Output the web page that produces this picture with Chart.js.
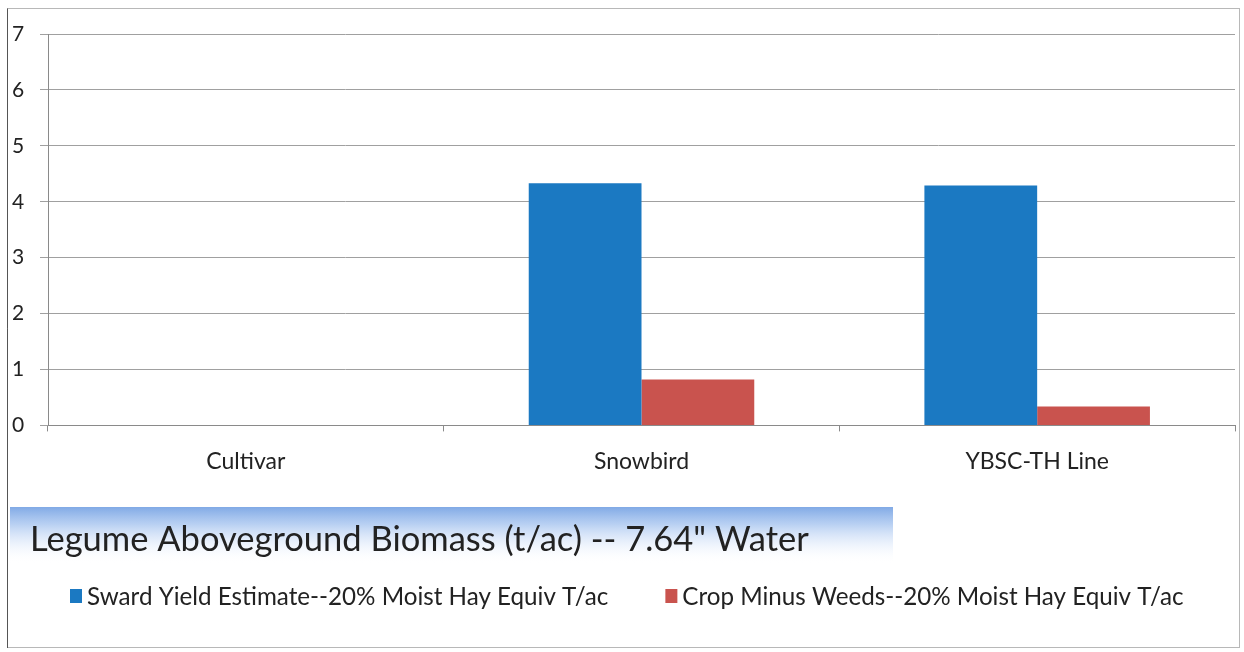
<!DOCTYPE html>
<html>
<head>
<meta charset="utf-8">
<script src="https://cdn.jsdelivr.net/npm/chart.js@4.4.1/dist/chart.umd.min.js"></script>
<style>
  html, body { margin: 0; padding: 0; background: #ffffff; }
  #wrap { width: 1244px; height: 652px; }
</style>
</head>
<body>
<div id="wrap"><canvas id="chart" width="1244" height="652"></canvas></div>
<script>
// Cultivars and biomass estimates (t/ac, 20% moisture hay equivalent)
const categories = ['Cultivar', 'Snowbird', 'YBSC-TH Line'];
const swardYield = [null, 4.33, 4.29];
const cropMinusWeeds = [null, 0.82, 0.34];
const seriesNames = [
  'Sward Yield Estimate--20% Moist Hay Equiv T/ac',
  'Crop Minus Weeds--20% Moist Hay Equiv T/ac'
];
const seriesColors = ['#1b79c2', '#c9534e'];
const yTicks = [0, 1, 2, 3, 4, 5, 6, 7];
const chartTitle = 'Legume Aboveground Biomass (t/ac) -- 7.64" Water';

const FONT = 'Lato, "Noto Sans", sans-serif';

// Outer frame
const framePlugin = {
  id: 'frame',
  beforeDraw(chart) {
    const ctx = chart.ctx;
    ctx.save();
    ctx.fillStyle = '#ffffff';
    ctx.fillRect(0, 0, chart.width, chart.height);
    ctx.strokeStyle = '#b8b8b8';
    ctx.lineWidth = 1;
    ctx.strokeRect(7.5, 8.5, chart.width - 12, chart.height - 13);
    ctx.strokeStyle = '#555';
    ctx.beginPath();
    ctx.moveTo(7.5, 8.5);
    ctx.lineTo(7.5, chart.height - 4);
    ctx.stroke();
    ctx.restore();
  }
};

// Title on a shaded band, then the series key: square swatch followed by its name
const captionPlugin = {
  id: 'caption',
  afterDraw(chart) {
    const ctx = chart.ctx;
    ctx.save();

    // title band
    const top = 507, bottom = 564;
    const g = ctx.createLinearGradient(0, top, 0, bottom);
    g.addColorStop(0, 'rgba(122,165,228,0.95)');
    g.addColorStop(0.3, 'rgba(160,192,238,0.75)');
    g.addColorStop(0.7, 'rgba(220,232,250,0.4)');
    g.addColorStop(1, 'rgba(255,255,255,0)');
    ctx.fillStyle = g;
    ctx.fillRect(10, top, 883, bottom - top);

    ctx.fillStyle = '#222';
    ctx.font = '34.5px ' + FONT;
    ctx.textBaseline = 'alphabetic';
    ctx.textAlign = 'left';
    ctx.fillText(chartTitle, 30, 551);

    // series key
    ctx.font = '24.2px ' + FONT;
    ctx.textBaseline = 'middle';
    const y = 596;
    let x = 70;
    chart.data.datasets.forEach((ds) => {
      ctx.fillStyle = ds.backgroundColor;
      ctx.fillRect(x, y - 7, 12, 14);
      ctx.fillStyle = '#222';
      ctx.fillText(ds.label, x + 17, y + 1);
      x += 17 + ctx.measureText(ds.label).width + 57;
    });
    ctx.restore();
  }
};

new Chart(document.getElementById('chart'), {
  type: 'bar',
  data: {
    labels: categories,
    datasets: [
      {
        label: seriesNames[0],
        data: swardYield,
        backgroundColor: seriesColors[0],
        borderWidth: 0,
        barPercentage: 1.0,
        categoryPercentage: 0.57
      },
      {
        label: seriesNames[1],
        data: cropMinusWeeds,
        backgroundColor: seriesColors[1],
        borderWidth: 0,
        barPercentage: 1.0,
        categoryPercentage: 0.57
      }
    ]
  },
  options: {
    responsive: false,
    animation: false,
    devicePixelRatio: 1,
    layout: { padding: { left: 12, right: 9, top: 34, bottom: 161 } },
    scales: {
      x: {
        grid: {
          display: true,
          drawOnChartArea: false,
          drawTicks: true,
          tickLength: 6,
          color: '#8a8a8a',
          offset: true
        },
        border: { display: true, color: '#8a8a8a' },
        ticks: {
          padding: 16,
          color: '#222',
          font: { family: FONT, size: 23 }
        }
      },
      y: {
        min: 0,
        max: 7,
        afterFit(scale) { scale.width = 36; },
        afterBuildTicks(scale) { scale.ticks = yTicks.map(v => ({ value: v })); },
        grid: {
          color: '#a0a0a0',
          drawTicks: true,
          tickLength: 8
        },
        border: { display: true, color: '#8a8a8a' },
        ticks: {
          crossAlign: 'far',
          color: '#222',
          font: { family: FONT, size: 21 }
        }
      }
    },
    plugins: {
      tooltip: { enabled: false },
      legend: { display: false },
      title: { display: false }
    }
  },
  plugins: [framePlugin, captionPlugin]
});
</script>
</body>
</html>
